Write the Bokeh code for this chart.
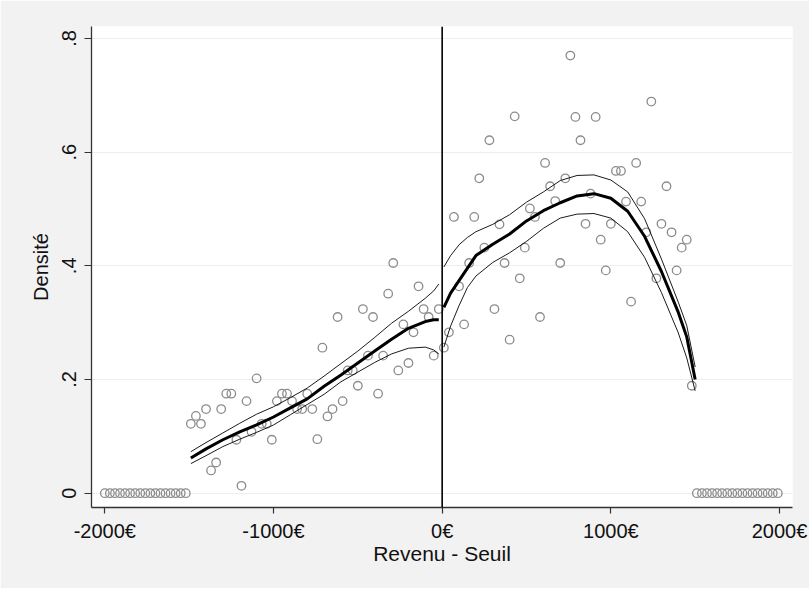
from bokeh.plotting import figure
from bokeh.models import FixedTicker, Span, Range1d
from bokeh.embed import file_html
from bokeh.resources import INLINE

# ---- binned density (bin centres, €) ----
bin_x = [-2000, -1970, -1940, -1910, -1880, -1850, -1820, -1790, -1760, -1730, -1700, -1670,
         -1640, -1610, -1580, -1550, -1520,
         -1490, -1460, -1430, -1400, -1370, -1340, -1310, -1280, -1250, -1220, -1190, -1160,
         -1130, -1100, -1070, -1040, -1010, -980, -950, -920, -890, -860, -830, -800, -770,
         -740, -710, -680, -650, -620, -590, -560, -530, -500, -470, -440, -410, -380, -350,
         -320, -290, -260, -230, -200, -170, -140, -110, -80, -50, -20,
         10, 40, 70, 100, 130, 160, 190, 220, 250, 280, 310, 340, 370, 400, 430, 460, 490,
         520, 550, 580, 610, 640, 670, 700, 730, 760, 790, 820, 850, 880, 910, 940, 970, 1000,
         1030, 1060, 1090, 1120, 1150, 1180, 1210, 1240, 1270, 1300, 1330, 1360, 1390, 1420,
         1450, 1480,
         1510, 1540, 1570, 1600, 1630, 1660, 1690, 1720, 1750, 1780, 1810, 1840, 1870, 1900,
         1930, 1960, 1990]
bin_density = [0, 0, 0, 0, 0, 0, 0, 0, 0, 0, 0, 0, 0, 0, 0, 0, 0,
               0.122, 0.136, 0.122, 0.148, 0.040, 0.054, 0.148, 0.175, 0.175, 0.094, 0.013, 0.162,
               0.108, 0.202, 0.122, 0.122, 0.094, 0.162, 0.175, 0.175, 0.162, 0.148, 0.148, 0.175,
               0.148, 0.095, 0.256, 0.135, 0.148, 0.310, 0.162, 0.216, 0.216, 0.189, 0.324, 0.242,
               0.310, 0.175, 0.242, 0.351, 0.405, 0.216, 0.297, 0.229, 0.283, 0.364, 0.324, 0.310,
               0.242, 0.324,
               0.256, 0.283, 0.486, 0.364, 0.297, 0.405, 0.486, 0.554, 0.432, 0.621, 0.324, 0.473,
               0.405, 0.270, 0.663, 0.378, 0.432, 0.501, 0.486, 0.310, 0.581, 0.540, 0.514, 0.405,
               0.554, 0.770, 0.662, 0.621, 0.474, 0.527, 0.662, 0.446, 0.392, 0.474, 0.567, 0.567,
               0.513, 0.337, 0.581, 0.513, 0.459, 0.689, 0.378, 0.474, 0.540, 0.459, 0.392, 0.432,
               0.446, 0.189,
               0, 0, 0, 0, 0, 0, 0, 0, 0, 0, 0, 0, 0, 0, 0, 0, 0]

# ---- local fit below the threshold, with confidence band ----
left_x = [-1490, -1400, -1300, -1200, -1100, -1000, -900, -800, -700, -600, -500, -400, -300,
          -200, -100, -50, -20]
left_fit = [0.062, 0.078, 0.094, 0.108, 0.120, 0.134, 0.150, 0.166, 0.188, 0.208, 0.229, 0.250,
            0.271, 0.290, 0.302, 0.305, 0.305]
left_hi = [0.073, 0.089, 0.106, 0.123, 0.139, 0.152, 0.168, 0.185, 0.206, 0.228, 0.250, 0.274,
           0.299, 0.320, 0.343, 0.356, 0.368]
left_lo = [0.052, 0.066, 0.082, 0.095, 0.107, 0.120, 0.138, 0.156, 0.174, 0.196, 0.213, 0.230,
           0.245, 0.255, 0.257, 0.252, 0.245]

# ---- local fit above the threshold, with confidence band ----
right_x = [10, 50, 100, 150, 200, 300, 400, 500, 600, 700, 800, 900, 1000, 1100, 1200, 1300,
           1400, 1450, 1500]
right_fit = [0.327, 0.352, 0.374, 0.396, 0.418, 0.438, 0.456, 0.479, 0.497, 0.511, 0.523, 0.527,
             0.519, 0.496, 0.452, 0.390, 0.318, 0.275, 0.200]
right_hi = [0.398, 0.418, 0.437, 0.450, 0.460, 0.473, 0.490, 0.512, 0.530, 0.550, 0.559, 0.560,
            0.551, 0.530, 0.483, 0.412, 0.336, 0.295, 0.222]
right_lo = [0.257, 0.294, 0.330, 0.362, 0.382, 0.406, 0.423, 0.443, 0.466, 0.484, 0.491, 0.492,
            0.484, 0.460, 0.415, 0.353, 0.282, 0.238, 0.180]

# ---- axes ----
x_ticks = [-2000, -1000, 0, 1000, 2000]
x_tick_labels = ["-2000€", "-1000€", "0€", "1000€", "2000€"]
y_ticks = [0, 0.2, 0.4, 0.6, 0.8]
y_tick_labels = ["0", ".2", ".4", ".6", ".8"]
x_title = "Revenu - Seuil"
y_title = "Densité"

FONT = "Liberation Sans"
BG = "#f2f2f2"

p = figure(width=809, height=588, output_backend="svg", toolbar_location=None,
           x_range=Range1d(-2079, 2077), y_range=Range1d(-0.0252, 0.8211),
           min_border_left=91, min_border_right=17, min_border_top=26, min_border_bottom=81)
p.border_fill_color = BG
p.background_fill_color = "white"
p.outline_line_color = None

p.xgrid.grid_line_color = None
p.ygrid.ticker = FixedTicker(ticks=y_ticks)
p.ygrid.grid_line_color = "#eeeeee"
p.ygrid.grid_line_width = 1.2

for ax in (p.xaxis[0], p.yaxis[0]):
    ax.axis_line_color = "#333333"
    ax.axis_line_width = 1.3
    ax.major_tick_line_color = "#333333"
    ax.major_tick_line_width = 1.2
    ax.major_tick_in = 0
    ax.minor_tick_line_color = None
    ax.major_label_text_font = FONT
    ax.major_label_text_font_size = "20px"
    ax.major_label_text_color = "#111111"
    ax.axis_label_text_font = FONT
    ax.axis_label_text_font_size = "20px"
    ax.axis_label_text_font_style = "normal"
    ax.axis_label_text_color = "#111111"

p.xaxis.ticker = FixedTicker(ticks=x_ticks)
p.xaxis.major_label_overrides = dict(zip(x_ticks, x_tick_labels))
p.xaxis.major_tick_out = 6
p.xaxis.major_label_standoff = 6
p.xaxis.axis_label = x_title
p.xaxis.axis_label_standoff = -3
p.xaxis.axis_label_text_font_size = "21px"

p.yaxis.ticker = FixedTicker(ticks=y_ticks)
p.yaxis.major_label_overrides = dict(zip(y_ticks, y_tick_labels))
p.yaxis.major_label_orientation = "vertical"
p.yaxis.major_tick_out = 7
p.yaxis.major_label_standoff = 8
p.yaxis.axis_label = y_title
p.yaxis.axis_label_standoff = 8

# scatter of bin densities
p.scatter(bin_x, bin_density, marker="circle", size=8.5, fill_color=None,
          line_color="#8c8c8c", line_width=1.3)

# confidence bands and fits
for xs, lo, hi, fit in ((left_x, left_lo, left_hi, left_fit),
                        (right_x, right_lo, right_hi, right_fit)):
    p.line(xs, lo, line_color="black", line_width=0.9)
    p.line(xs, hi, line_color="black", line_width=0.9)
    p.line(xs, fit, line_color="black", line_width=3)

p.add_layout(Span(location=0, dimension="height", line_color="black", line_width=1.6))

open("out.html", "w").write(file_html(p, INLINE))
